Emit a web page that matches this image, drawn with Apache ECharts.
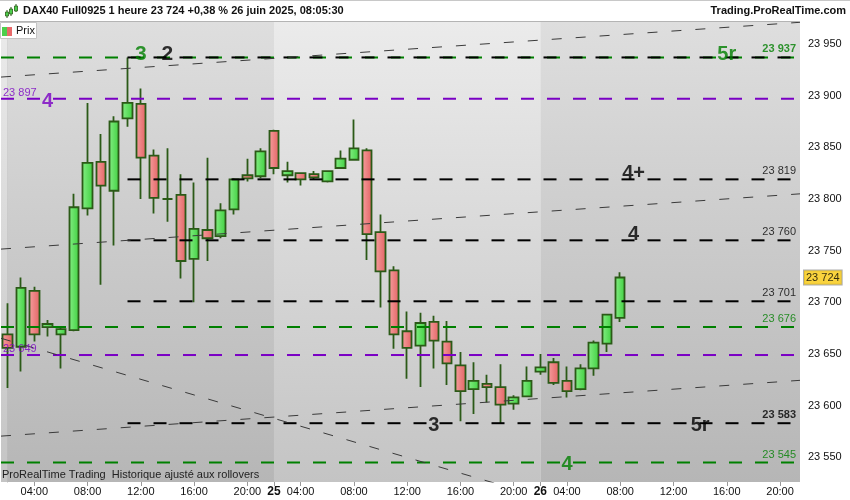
<!DOCTYPE html>
<html>
<head>
<meta charset="utf-8">
<script src="https://cdn.jsdelivr.net/npm/echarts@6/dist/echarts.min.js"></script>
<style>
html,body{margin:0;padding:0;background:#fff;}
#chart{width:850px;height:500px;}
</style>
</head>
<body>
<div id="chart"></div>
<script>
// ---------- DATA ----------
const days = ['24', '25', '26'];
const dayMarks = ['', '25', '26'];
const sessionHours = ['02:00','03:00','04:00','05:00','06:00','07:00','08:00','09:00','10:00','11:00',
                      '12:00','13:00','14:00','15:00','16:00','17:00','18:00','19:00','20:00','21:00'];
// hourly candles [open, high, low, close]
const day24 = [
  [23669,23699,23617,23656],[23657,23724,23633,23714],[23711,23715,23662,23669],[23676,23683,23667,23679],
  [23669,23676,23636,23674],[23673,23805,23672,23792],[23791,23893,23784,23835],[23836,23863,23717,23813],
  [23808,23880,23755,23875],[23878,23937,23870,23893],[23892,23907,23800,23840],[23842,23848,23786,23801],
  [23800,23849,23778,23800],[23804,23824,23723,23740],[23742,23816,23700,23771],[23770,23840,23740,23762],
  [23764,23796,23762,23789],[23790,23820,23785,23819],[23823,23839,23817,23820],[23822,23849,23820,23846]
];
const day25 = [
  [23866,23867,23824,23830],[23823,23836,23816,23827],[23825,23826,23813,23819],[23824,23827,23819,23821],
  [23817,23827,23816,23827],[23830,23847,23830,23839],[23838,23877,23837,23849],[23847,23849,23741,23766],
  [23768,23785,23695,23730],[23731,23735,23655,23669],[23672,23691,23626,23656],[23658,23690,23618,23680],
  [23681,23687,23636,23663],[23662,23682,23620,23641],[23639,23652,23585,23614],[23616,23642,23592,23624],
  [23621,23630,23603,23618],[23618,23640,23583,23601],[23602,23610,23596,23608],[23609,23638,23609,23624]
];
const day26 = [
  [23633,23650,23630,23637],[23642,23646,23620,23622],[23624,23638,23608,23614],[23616,23640,23615,23636],
  [23636,23663,23629,23661],[23660,23688,23652,23688],[23685,23729,23681,23724]
];
const lastPrice = 23724;
const yTicks = [23550, 23600, 23650, 23700, 23750, 23800, 23850, 23900, 23950];

// horizontal levels
const greenLevels  = [23937, 23676, 23545];
const purpleLevels = [23897, 23649];
const blackLevels  = [23937, 23819, 23760, 23701, 23583];
const blackStartIndex = 9;           // black levels begin at this candle
const leftLabelLevels = [23897, 23649];
const boldLabelLevels = [23937, 23583];

// dashed trend lines: [[x, price], [x, price]] on slot scale
const trendLines = [
  [[-0.5, 23918], [59.5, 23971]],
  [[-0.5, 23751.5], [59.5, 23805]],
  [[-0.5, 23570.5], [59.5, 23624.5]],
  [[-0.5, 23665.2], [40, 23512]]
];

// wave annotations: [text, slot, level, colour key]
const annotations = [
  ['3', 10, 23937, 'green'], ['2', 12, 23937, 'black'], ['4', 3, 23897, 'purple'],
  ['5r', 54, 23937, 'green'], ['4+', 47, 23819, 'black'], ['4', 47, 23760, 'black'],
  ['3', 32, 23583, 'black'], ['5r', 52, 23583, 'black'], ['4', 42, 23545, 'green']
];

// ---------- BUILD ----------
const FONT = 'Liberation Sans, Arial, Helvetica, sans-serif';
const COLORS = {green: '#008000', purple: '#7a00c4', black: '#000000'};
const fmt = v => String(v).replace(/\B(?=(\d{3})+(?!\d))/g, ' ');

const categories = [];
days.forEach(d => sessionHours.forEach(h => categories.push(d + ' ' + h)));
const nSlots = categories.length;
const xMin = -0.5, xMax = nSlots - 0.5;

const candles = day24.concat(day25, day26).map(([o, h, l, c]) => [o, c, l, h]);

function xLabel(value, index) {
  const [d, h] = value.split(' ');
  if (h === sessionHours[0]) {
    const m = dayMarks[days.indexOf(d)];
    return m ? '{day|' + m + '}' : '';
  }
  return (parseInt(h, 10) % 4 === 0) ? h : '';
}
function hasLabel(index, value) { return xLabel(categories[index], index) !== ''; }

const gradG = new echarts.graphic.LinearGradient(0, 0, 1, 0, [{offset: 0, color: '#86ef86'}, {offset: 1, color: '#3fcf3f'}]);
const gradR = new echarts.graphic.LinearGradient(0, 0, 1, 0, [{offset: 0, color: '#f6a0a0'}, {offset: 1, color: '#e26262'}]);
const bgDark  = new echarts.graphic.LinearGradient(0, 0, 0, 1, [{offset: 0, color: '#dedede'}, {offset: 1, color: '#b6b6b6'}]);
const bgLight = new echarts.graphic.LinearGradient(0, 0, 0, 1, [{offset: 0, color: '#ebebeb'}, {offset: 1, color: '#c4c4c4'}]);

// background bands: before first day boundary light, then alternate per day
const bounds = [xMin];
days.forEach((d, i) => bounds.push(i * sessionHours.length));
bounds.push(xMax);
const bands = [];
for (let i = 0; i < bounds.length - 1; i++) {
  bands.push([{xAxis: bounds[i], itemStyle: {color: i % 2 === 0 ? bgLight : bgDark}}, {xAxis: bounds[i + 1]}]);
}

const series = [];
series.push({
  type: 'line', xAxisIndex: 1, data: [], silent: true, z: 0,
  markArea: {silent: true, data: bands}
});
series.push({
  type: 'candlestick', xAxisIndex: 0, data: candles, barWidth: 10, z: 2, silent: true,
  itemStyle: {color: gradG, color0: gradR, borderColor: '#2b5a17', borderColor0: '#2b5a17',
              borderColorDoji: '#2b5a17', borderWidth: 1.8}
});

function levelSeries(level, color, start) {
  return {
    type: 'line', xAxisIndex: 1, data: [[start, level], [xMax, level]], symbol: 'none', silent: true, z: 4,
    lineStyle: {color: color, width: 2, type: [13, 13]}
  };
}
greenLevels.forEach(l => series.push(levelSeries(l, COLORS.green, xMin)));
purpleLevels.forEach(l => series.push(levelSeries(l, COLORS.purple, xMin)));
blackLevels.forEach(l => series.push(levelSeries(l, COLORS.black, blackStartIndex)));

trendLines.forEach(t => series.push({
  type: 'line', xAxisIndex: 1, data: t, symbol: 'none', silent: true, z: 5,
  lineStyle: {color: '#3a3a3a', width: 1, type: [10, 14]}
}));

// level value labels
const levelLabelData = [];
const seen = {};
greenLevels.forEach(l => { seen[l] = 'green'; });
purpleLevels.forEach(l => { seen[l] = 'purple'; });
blackLevels.forEach(l => { if (!seen[l]) seen[l] = 'black'; });
Object.keys(seen).forEach(k => {
  const l = +k;
  const left = leftLabelLevels.includes(l);
  levelLabelData.push({
    value: [left ? xMin : xMax, l],
    label: {
      show: true, formatter: fmt(l), position: left ? 'right' : 'left', distance: left ? 2 : 4,
      offset: [0, left ? -6 : -8], color: COLORS[seen[k]], fontSize: 11, fontFamily: FONT,
      textBorderWidth: 0,
      fontWeight: boldLabelLevels.includes(l) ? 'bold' : 'normal'
    }
  });
});
series.push({type: 'scatter', xAxisIndex: 1, data: levelLabelData, symbolSize: 0, silent: true, z: 6});

// wave annotations
series.push({
  type: 'scatter', xAxisIndex: 1, symbolSize: 0, silent: true, z: 7,
  data: annotations.map(([t, x, l, c]) => ({
    value: [x, l],
    label: {show: true, formatter: t, position: 'inside', color: COLORS[c],
            textBorderWidth: 0, textBorderColor: 'transparent',
            fontSize: (t === '3' || t === '2') && l === 23937 ? 21 : 20, fontWeight: 'bold', fontFamily: FONT,
            offset: [0, l === 23937 ? -3 : (l === 23897 ? 3 : (l === 23819 || l === 23760 ? -6 : 2))]}
  }))
});

// last price tag on the right axis
series.push({
  type: 'scatter', xAxisIndex: 1, symbolSize: 0, silent: true, clip: false, z: 8,
  data: [{value: [xMax, lastPrice]}],
  label: {show: true, formatter: fmt(lastPrice), position: 'right', distance: 4, color: '#000',
          fontSize: 11, fontFamily: FONT, backgroundColor: '#f8c80e', borderColor: '#9a9a9a', borderWidth: 1,
          textBorderWidth: 0, padding: [2, 2, 1, 2]}
});

const chart = echarts.init(document.getElementById('chart'), null, {renderer: 'canvas'});
chart.setOption({
  animation: false,
  backgroundColor: '#ffffff',
  textStyle: {fontFamily: FONT},
  grid: {left: 1, right: 50, top: 22, bottom: 18, containLabel: false, outerBoundsMode: 'none'},
  xAxis: [
    {
      type: 'category', data: categories, boundaryGap: true,
      axisLine: {show: false},
      axisTick: {show: true, alignWithLabel: true, interval: hasLabel, length: 4, lineStyle: {color: '#9a9a9a'}},
      axisLabel: {interval: 0, formatter: xLabel, margin: 4, fontSize: 11, color: '#111', fontFamily: FONT,
                  rich: {day: {fontWeight: 'bold', fontSize: 12, color: '#111', fontFamily: FONT}}},
      splitLine: {show: false}
    },
    {type: 'value', min: xMin, max: xMax, show: false, splitLine: {show: false}}
  ],
  yAxis: {
    type: 'value', position: 'right', min: 23526.1, max: 23971.3,
    axisLine: {show: true, lineStyle: {color: '#a8a8a8'}},
    axisTick: {show: true, customValues: yTicks, length: 5, lineStyle: {color: '#9a9a9a'}},
    axisLabel: {customValues: yTicks, formatter: v => fmt(v), margin: 8, fontSize: 11, color: '#111', fontFamily: FONT},
    splitLine: {show: false}
  },
  graphic: [
    {type: 'line', shape: {x1: 0, y1: 0.5, x2: 850, y2: 0.5}, style: {stroke: '#c8c8c8', lineWidth: 1}, z: 100},
    {type: 'line', shape: {x1: 0, y1: 21.5, x2: 800, y2: 21.5}, style: {stroke: '#b4b4b4', lineWidth: 1}, z: 100},
    // header icon
    {type: 'line', shape: {x1: 7, y1: 10, x2: 7, y2: 18}, style: {stroke: '#2b5a17', lineWidth: 1}, z: 100},
    {type: 'rect', shape: {x: 5.5, y: 12, width: 3, height: 4}, style: {fill: '#4ccf4c', stroke: '#2b5a17', lineWidth: 0.8}, z: 101},
    {type: 'line', shape: {x1: 11, y1: 7, x2: 11, y2: 16}, style: {stroke: '#2b5a17', lineWidth: 1}, z: 100},
    {type: 'rect', shape: {x: 9.5, y: 9, width: 3, height: 5}, style: {fill: '#4ccf4c', stroke: '#2b5a17', lineWidth: 0.8}, z: 101},
    {type: 'line', shape: {x1: 16, y1: 4, x2: 16, y2: 12}, style: {stroke: '#2b5a17', lineWidth: 1}, z: 100},
    {type: 'rect', shape: {x: 14.5, y: 6, width: 3, height: 5}, style: {fill: '#4ccf4c', stroke: '#2b5a17', lineWidth: 0.8}, z: 101},
    {type: 'text', left: 23, top: 5, z: 100,
     style: {text: 'DAX40 Full0925 1 heure 23 724 +0,38 % 26 juin 2025, 08:05:30', font: 'bold 11px ' + FONT, fill: '#111'}},
    {type: 'text', right: 4, top: 5, z: 100,
     style: {text: 'Trading.ProRealTime.com', font: 'bold 11px ' + FONT, fill: '#111'}},
    // legend box
    {type: 'rect', shape: {x: 0.5, y: 22.5, width: 36, height: 16}, style: {fill: '#ffffff', stroke: '#c4c4c4', lineWidth: 1}, z: 100},
    {type: 'rect', shape: {x: 2, y: 27, width: 5, height: 9}, style: {fill: '#4ccf4c'}, z: 101},
    {type: 'rect', shape: {x: 7, y: 27, width: 5, height: 9}, style: {fill: '#e86a6a'}, z: 101},
    {type: 'text', left: 16, top: 25, z: 101, style: {text: 'Prix', font: '11px ' + FONT, fill: '#111'}},
    // footer
    {type: 'text', left: 2, top: 469, z: 100,
     style: {text: 'ProRealTime Trading  Historique ajusté aux rollovers', font: '11px ' + FONT, fill: '#222'}}
  ],
  series: series
});
</script>
</body>
</html>
